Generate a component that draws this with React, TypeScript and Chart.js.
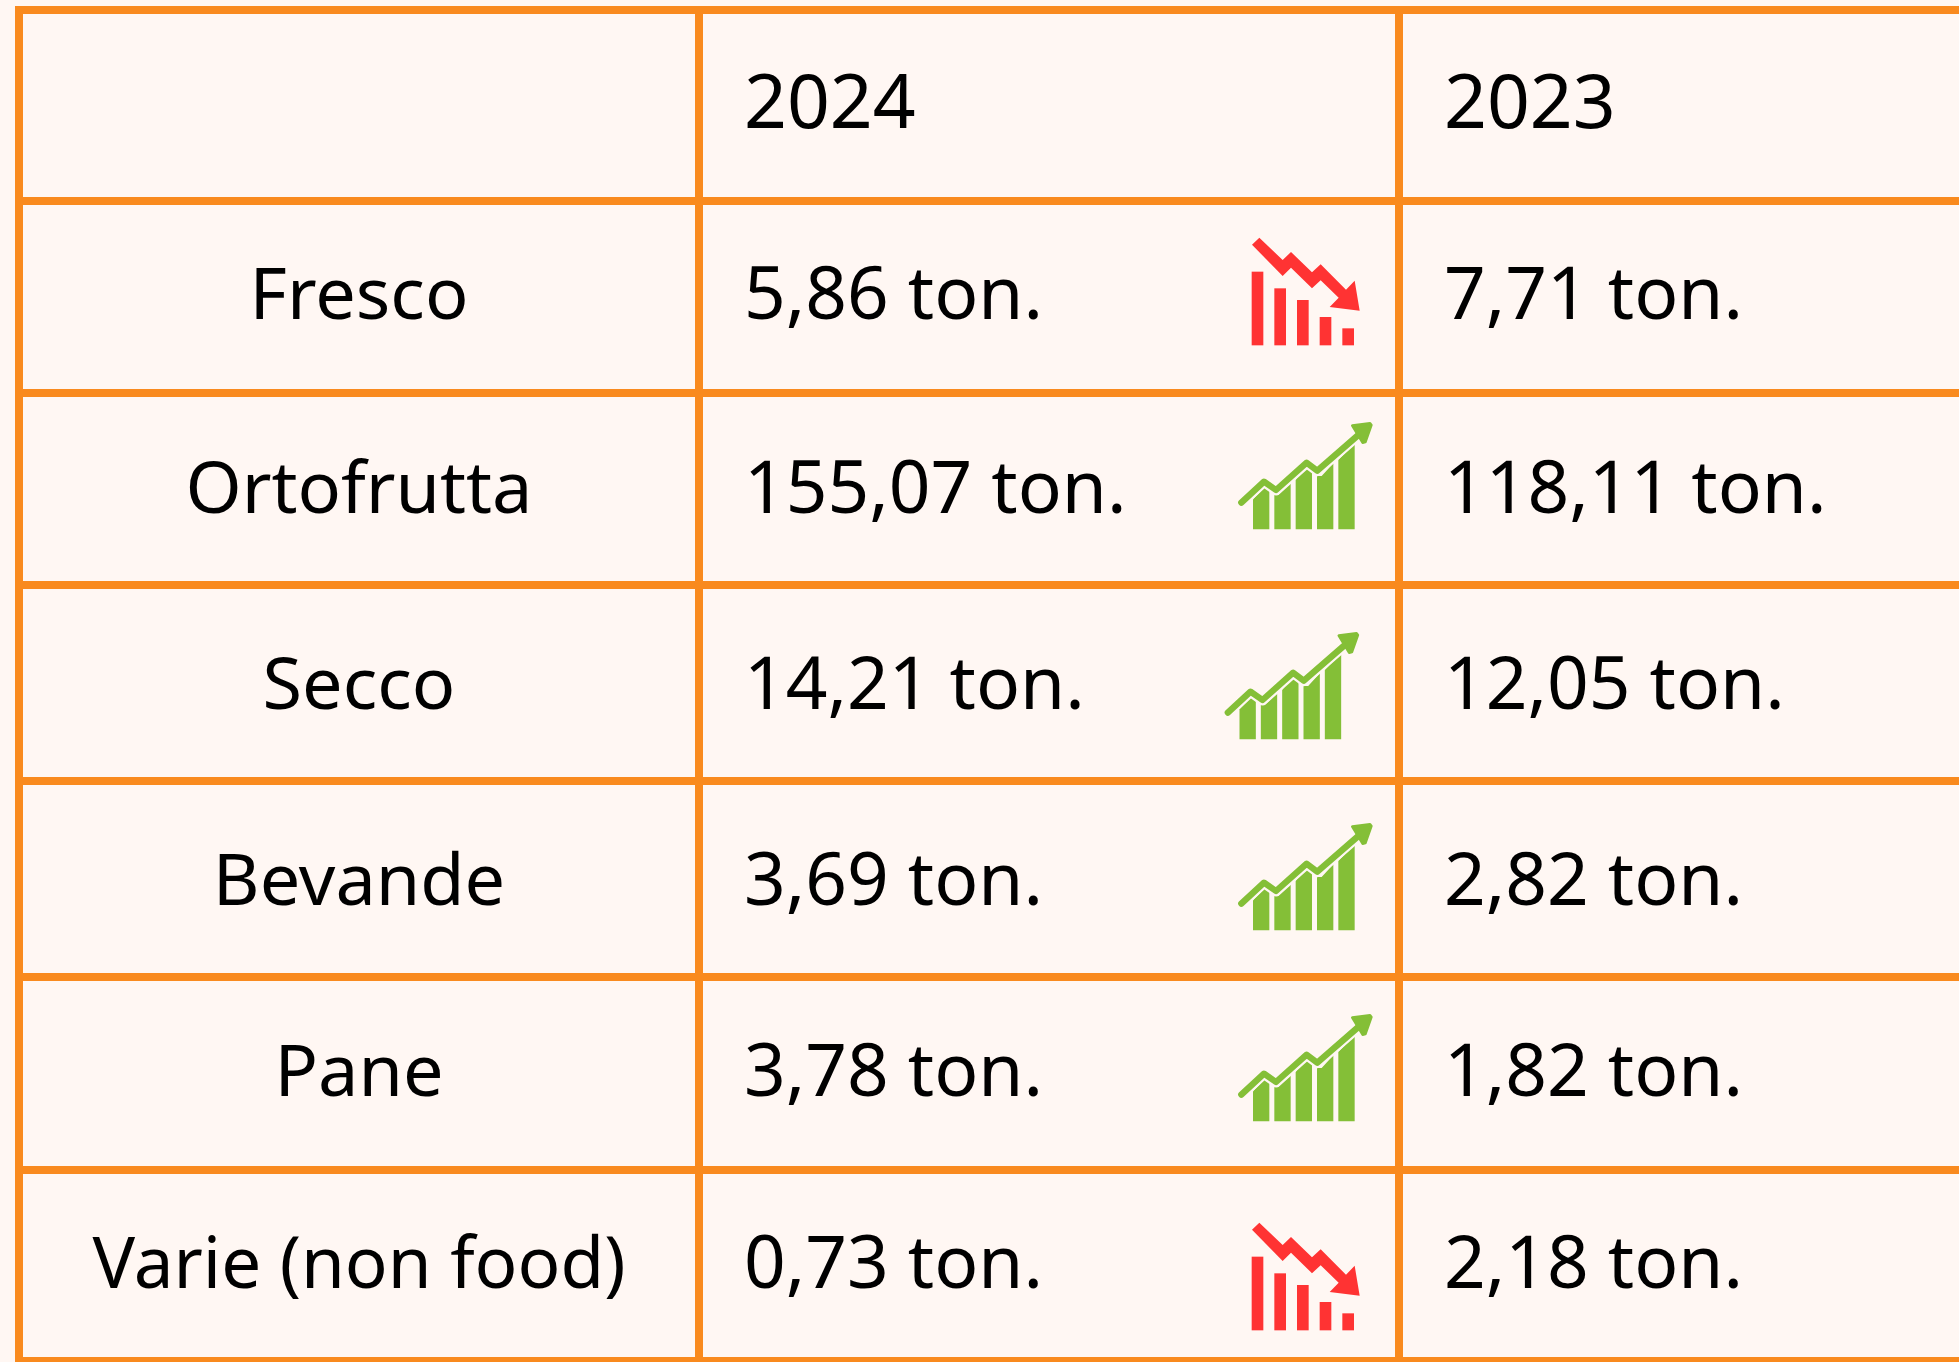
import React, { useEffect, useRef } from "react";
import { Chart, registerables } from "chart.js";

Chart.register(...registerables);

const headers = ["", "2024", "2023"];
const categories = ["Fresco", "Ortofrutta", "Secco", "Bevande", "Pane", "Varie (non food)"];
const values2024 = [5.86, 155.07, 14.21, 3.69, 3.78, 0.73];
const values2023 = [7.71, 118.11, 12.05, 2.82, 1.82, 2.18];

const WIDTH = 1959;
const HEIGHT = 1362;
const columnEdges = [19, 699, 1399];
const rowEdges = [9.7, 200.5, 392.5, 584.5, 781, 977, 1169.5, 1361];
const baselines = [128, 319, 513, 709, 905, 1096, 1288];
const iconOffsets: number[][] = [
  [0, 0],
  [0, 0],
  [-13.5, 210],
  [0, 401],
  [0, 592],
  [0, 985],
];

const ORANGE = "#F98A1E";
const PAPER = "#FFF7F3";
const RED = "#FF3333";
const GREEN = "#84BF37";
const FONT_LABEL = '72px "Noto Sans"';
const FONT_VALUE = '73px "Noto Sans"';
const FONT_HEADER = '75px "Noto Sans"';

const fmt = (v: number) => v.toFixed(2).replace(".", ",") + " ton.";

// Icon glyph outlines, in units of a third of a pixel from their crop origin.
const downBars = [[125, 155], [193, 205], [261, 240], [329, 291], [397, 325]];
const downArrow = [[126, 74], [148, 53], [218, 120], [243, 96], [306, 157], [332, 133], [408, 209], [434, 182], [449, 272], [359, 261], [386, 233], [332, 181], [306, 205], [243, 143], [218, 168]];
const upBars = [
  [[129, 268], [165, 232], [178, 240]],
  [[193, 255], [205, 255], [242, 220]],
  [[257, 210], [290, 165], [306, 180]],
  [[321, 198], [335, 198], [370, 160]],
  [[385, 150], [434, 100]],
];
const upLine = [[94, 278], [162, 215], [198, 240], [290, 158], [322, 182], [445, 75]];
const upHead = [[427, 47], [480, 40], [484, 45], [466, 96], [458, 98]];

function trace(ctx: CanvasRenderingContext2D, pts: number[][]) {
  ctx.beginPath();
  pts.forEach(([x, y], i) => (i ? ctx.lineTo(x, y) : ctx.moveTo(x, y)));
}

function drawDown(ctx: CanvasRenderingContext2D, ox: number, oy: number) {
  ctx.save();
  ctx.translate(ox, oy);
  ctx.scale(1 / 3, 1 / 3);
  ctx.fillStyle = RED;
  downBars.forEach(([x, top]) => ctx.fillRect(x, top, 35, 376 - top));
  trace(ctx, downArrow);
  ctx.closePath();
  ctx.fill();
  ctx.restore();
}

function drawUp(ctx: CanvasRenderingContext2D, ox: number, oy: number) {
  ctx.save();
  ctx.translate(ox, oy);
  ctx.scale(1 / 3, 1 / 3);
  ctx.fillStyle = GREEN;
  ctx.strokeStyle = GREEN;
  ctx.lineJoin = "round";
  ctx.lineCap = "round";
  upBars.forEach((top) => {
    const left = top[0][0];
    const right = top[top.length - 1][0];
    trace(ctx, top);
    ctx.lineTo(right, 358);
    ctx.lineTo(left, 358);
    ctx.closePath();
    ctx.fill();
  });
  ctx.lineWidth = 32;
  ctx.strokeStyle = PAPER;
  trace(ctx, upLine);
  ctx.stroke();
  ctx.lineWidth = 19;
  ctx.strokeStyle = GREEN;
  trace(ctx, upLine);
  ctx.stroke();
  ctx.lineWidth = 8;
  trace(ctx, upHead);
  ctx.closePath();
  ctx.fill();
  ctx.stroke();
  ctx.restore();
}

const tablePlugin = {
  id: "tablePlugin",
  beforeDraw(chart: any) {
    const { ctx } = chart;
    ctx.save();
    ctx.fillStyle = PAPER;
    ctx.fillRect(0, 0, chart.width, chart.height);
    ctx.restore();
  },
  afterDraw(chart: any) {
    const { ctx, scales } = chart;
    const x = scales.x;
    const y = scales.y;
    ctx.save();
    ctx.fillStyle = "#000000";
    ctx.textBaseline = "alphabetic";
    const col1 = x.getPixelForValue((columnEdges[0] + columnEdges[1]) / 2);
    const col2 = x.getPixelForValue(columnEdges[1] + 45);
    const col3 = x.getPixelForValue(columnEdges[2] + 45);
    ctx.textAlign = "left";
    ctx.font = FONT_HEADER;
    ctx.fillText(headers[1], col2, y.getPixelForValue(baselines[0]));
    ctx.fillText(headers[2], col3, y.getPixelForValue(baselines[0]));
    categories.forEach((name, i) => {
      const base = y.getPixelForValue(baselines[i + 1]);
      ctx.font = FONT_LABEL;
      ctx.textAlign = "center";
      ctx.fillText(name, col1, base, 533);
      ctx.font = FONT_VALUE;
      ctx.textAlign = "left";
      ctx.fillText(fmt(values2024[i]), col2, base);
      ctx.fillText(fmt(values2023[i]), col3, base);
    });
    ctx.restore();
    categories.forEach((_, i) => {
      const [dx, dy] = iconOffsets[i];
      if (values2024[i] >= values2023[i]) drawUp(ctx, 1210 + dx, 410 + dy);
      else drawDown(ctx, 1210 + dx, 220 + dy);
    });
  },
};

export default function App() {
  const ref = useRef<HTMLCanvasElement>(null);
  useEffect(() => {
    if (!ref.current) return;
    const chart = new Chart(ref.current, {
      type: "scatter",
      data: { datasets: [{ data: [], pointRadius: 0 }] },
      options: {
        animation: false,
        responsive: false,
        layout: { padding: { left: 15, top: 6, right: 0, bottom: 0 } },
        plugins: { legend: { display: false }, tooltip: { enabled: false } },
        scales: {
          x: {
            type: "linear",
            min: 15,
            max: WIDTH,
            border: { display: false },
            ticks: { display: false, autoSkip: false },
            grid: { color: ORANGE, lineWidth: 8, drawTicks: false },
            afterBuildTicks: (s: any) => {
              s.ticks = columnEdges.map((value) => ({ value }));
            },
          },
          y: {
            type: "linear",
            reverse: true,
            min: 6,
            max: HEIGHT,
            border: { display: false },
            ticks: { display: false, autoSkip: false },
            grid: { color: ORANGE, lineWidth: 8, drawTicks: false },
            afterBuildTicks: (s: any) => {
              s.ticks = rowEdges.map((value) => ({ value }));
            },
          },
        },
      },
      plugins: [tablePlugin],
    } as any);
    return () => chart.destroy();
  }, []);
  return (
    <div style={{ position: "absolute", left: 0, top: 0, width: WIDTH, height: HEIGHT }}>
      <canvas ref={ref} width={WIDTH} height={HEIGHT} style={{ display: "block" }} />
    </div>
  );
}
